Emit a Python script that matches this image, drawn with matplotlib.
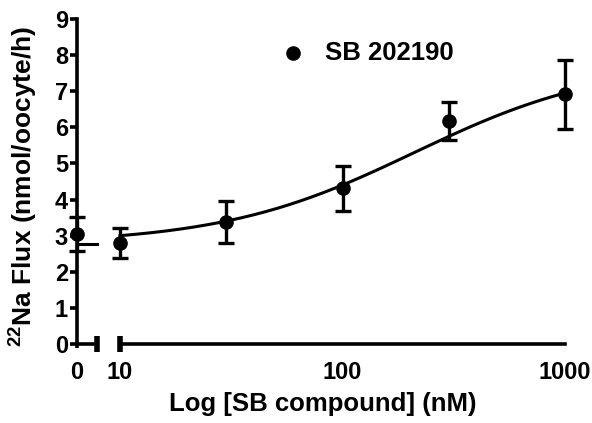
import matplotlib
matplotlib.use("Agg")
import matplotlib.pyplot as plt
from matplotlib.lines import Line2D
import numpy as np

plt.rcParams['font.family'] = ['Liberation Sans', 'DejaVu Sans']
plt.rcParams['font.weight'] = 'bold'
plt.rcParams['mathtext.fontset'] = 'custom'
plt.rcParams['mathtext.bf'] = 'Liberation Sans:bold'
plt.rcParams['mathtext.rm'] = 'Liberation Sans:bold'
plt.rcParams['mathtext.default'] = 'bf'

# ---- data ----
conc_zero = [0]
flux_zero = [3.05]
sem_zero = [0.47]

conc = [10, 30, 100, 300, 1000]
flux = [2.80, 3.39, 4.31, 6.18, 6.91]
sem = [0.42, 0.58, 0.63, 0.53, 0.96]

# fitted dose-response curve parameters
fit_bottom = 2.77
fit_top = 7.83
fit_ec50 = 210.0
fit_hill = 1.0

x_tick_vals = [10, 100, 1000]
x_tick_labels = ["10", "100", "1000"]
y_ticks = list(range(0, 10))
legend_label = "SB 202190"
x_label = "Log [SB compound] (nM)"
y_label = r"$^{22}$Na Flux (nmol/oocyte/h)"

# ---- figure ----
W, H = 592, 423
fig = plt.figure(figsize=(W / 100, H / 100), dpi=100)
y0px, y9px = 344, 19
bottom = (H - y0px) / H
height = (y0px - y9px) / H
ax1 = fig.add_axes([77 / W, bottom, 20 / W, height])
ax2 = fig.add_axes([120 / W, bottom, 445 / W, height], sharey=ax1)

fs = 18.5
fs_tick = 17
lw = 2.6

for ax in (ax1, ax2):
    ax.set_facecolor('none')
    ax.spines['top'].set_visible(False)
    ax.spines['right'].set_visible(False)
    ax.spines['bottom'].set_linewidth(lw)
    ax.spines['left'].set_linewidth(lw)
ax2.spines['left'].set_visible(False)

ax1.set_xlim(0, 1)
ax1.set_ylim(0, 9)
ax1.set_yticks(y_ticks)
ax1.set_yticklabels([str(v) for v in y_ticks], fontsize=fs_tick, fontweight='bold')
ax1.tick_params(axis='y', length=5, width=lw, pad=1.5)
ax1.set_xticks([0])
ax1.set_xticklabels(["0"], fontsize=fs_tick, fontweight='bold')
ax1.tick_params(axis='x', length=3, width=lw, pad=9.5)

ax2.set_xscale('log')
ax2.set_xlim(10, 1000)
ax2.set_xticks(x_tick_vals)
ax2.set_xticklabels(x_tick_labels, fontsize=fs_tick, fontweight='bold')
ax2.minorticks_off()
ax2.tick_params(axis='x', which='both', length=0, pad=12.5)
ax2.tick_params(axis='y', left=False, labelleft=False)

# break caps
ax1.plot([1], [0], marker='|', ms=12, mew=4, color='black', clip_on=False)
ax2.plot([10], [0], marker='|', ms=12, mew=4, color='black', clip_on=False)

# zero-dose data
c0 = ax1.errorbar(conc_zero, flux_zero, yerr=sem_zero, fmt='o', color='black',
                  ms=9.5, capsize=6, elinewidth=2.4, capthick=2.4)
ax1.plot([0, 1], [fit_bottom, fit_bottom], color='black', lw=2.2, clip_on=False)

# curve
xs = np.logspace(1, 3, 300)
ys = fit_bottom + (fit_top - fit_bottom) / (1 + (fit_ec50 / xs) ** fit_hill)
ax2.plot(xs, ys, color='black', lw=2.2, clip_on=False)

c1 = ax2.errorbar(conc, flux, yerr=sem, fmt='o', color='black',
                  ms=9.5, capsize=6, elinewidth=2.4, capthick=2.4)
for cont in (c0, c1):
    for art in cont.get_children():
        art.set_clip_on(False)

# legend
fig.add_artist(Line2D([293 / W], [1 - 53 / H], marker='o', ms=9.5, color='black',
                      transform=fig.transFigure))
fig.text(325 / W, 1 - 53 / H, legend_label, fontsize=fs, fontweight='bold',
         ha='left', va='center')

fig.text(323 / W, 1 - 404 / H, x_label, fontsize=fs, fontweight='bold',
         ha='center', va='center')
fig.text(24 / W, 1 - 186 / H, y_label, fontsize=19, fontweight='bold',
         ha='center', va='center', rotation=90)

fig.savefig('out.png', dpi=100)
